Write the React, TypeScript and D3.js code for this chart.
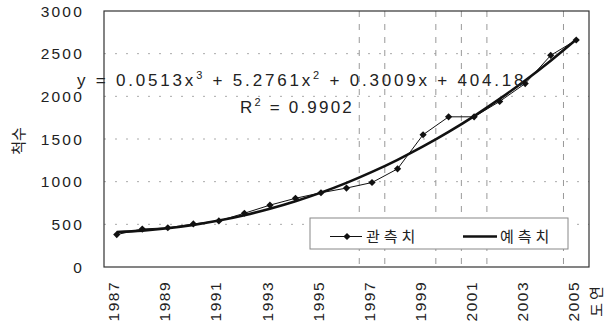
import React from "react";
import * as d3 from "d3";

const years = ["1987","1988","1989","1990","1991","1992","1993","1994","1995","1996","1997","1998","1999","2000","2001","2002","2003","2004","2005"];
const observed = [380, 445, 460, 505, 540, 630, 725, 805, 870, 925, 990, 1150, 1550, 1760, 1760, 1940, 2150, 2480, 2660];
const predicted = [409.8, 426.3, 454.0, 493.1, 544.0, 607.0, 682.4, 770.5, 871.7, 986.1, 1114.2, 1256.2, 1412.5, 1583.3, 1769.0, 1969.8, 2186.1, 2418.2, 2666.4];
const yTicks = [0, 500, 1000, 1500, 2000, 2500, 3000];
const xTickLabels = ["1987","1989","1991","1993","1995","1997","1999","2001","2003","2005"];
const vGridBoundaries = [9.5, 10.5, 12.5, 13.5, 14.5, 17.5];
const legendLabels = ["관측치", "예측치"];
const yTitle = "척수";
const xTitle = "도연";

const W = 611, H = 327;
const left = 104, right = 589, top = 11, bottom = 267;
const font = "'Liberation Sans', Arial, sans-serif";

export default function App() {
  const x = d3.scalePoint<string>().domain(years).range([left, right]).padding(0.5);
  const step = x.step();
  const xi = (i: number) => left + step * 0.5 + i * step;
  const y = d3.scaleLinear().domain([0, 3000]).range([bottom, top]);

  const obsLine = d3.line<number>().x((_, i) => x(years[i])!).y(d => y(d));
  const predLine = d3.line<number>().x((_, i) => x(years[i])!).y(d => y(d)).curve(d3.curveCatmullRom.alpha(0.5));

  const diamond = (cx: number, cy: number, r = 3.6) =>
    `M${cx},${cy - r}L${cx + r},${cy}L${cx},${cy + r}L${cx - r},${cy}Z`;

  const legX = 310, legY = 218, legW = 258, legH = 31;
  const legCy = legY + legH / 2 + 3;

  return (
    <svg width={W} height={H} style={{ position: "absolute", left: 0, top: 0, background: "#fff" }}>
      {yTicks.filter(t => t > 0 && t < 3000).map(t => (
        <line key={t} x1={left} x2={right} y1={y(t)} y2={y(t)} stroke="#aaa" strokeWidth={1} strokeDasharray="2,9" />
      ))}
      {vGridBoundaries.map(b => (
        <line key={b} x1={xi(b)} x2={xi(b)} y1={top} y2={bottom} stroke="#999" strokeWidth={1} strokeDasharray="6,7" />
      ))}
      <rect x={left} y={top} width={right - left} height={bottom - top} fill="none" stroke="#333" strokeWidth={1.2} />
      {yTicks.map(t => (
        <text key={t} x={84} y={y(t)} dy="0.36em" textAnchor="end" fontFamily={font} fontSize={15.5} letterSpacing={2.2} fill="#222">{t}</text>
      ))}
      {xTickLabels.map(l => {
        const cx = x(l)! - 3;
        return (
          <text key={l} transform={`translate(${cx},${281}) rotate(-90)`} dy="0.36em" textAnchor="end" fontFamily={font} fontSize={15.5} letterSpacing={1.5} fill="#222">{l}</text>
        );
      })}
      <text transform={`translate(${19},${141}) rotate(-90)`} dy="0.36em" textAnchor="middle" fontFamily="'Noto Sans CJK KR', sans-serif" fontSize={15} fill="#222">{yTitle}</text>
      <text transform={`translate(${597},${300}) rotate(-90)`} dy="0.36em" textAnchor="middle" fontFamily="'Noto Sans CJK KR', sans-serif" fontSize={15} letterSpacing={3} fill="#222">{xTitle}</text>

      <path d={predLine(predicted)!} fill="none" stroke="#111" strokeWidth={2.6} />
      <path d={obsLine(observed)!} fill="none" stroke="#111" strokeWidth={1} />
      {observed.map((v, i) => (
        <path key={i} d={diamond(x(years[i])!, y(v))} fill="#111" />
      ))}

      <text x={77} y={86} fontFamily={font} fontSize={17} letterSpacing={2.8} fill="#222">
        y = 0.0513x<tspan dy={-7} fontSize={11}>3</tspan><tspan dy={7}> + 5.2761x</tspan><tspan dy={-7} fontSize={11}>2</tspan><tspan dy={7}> + 0.3009x + 404.18</tspan>
      </text>
      <text x={240} y={113} fontFamily={font} fontSize={17} letterSpacing={2.2} fill="#222">
        R<tspan dy={-7} fontSize={11}>2</tspan><tspan dy={7}> = 0.9902</tspan>
      </text>

      <rect x={legX} y={legY} width={legW} height={legH} fill="#fff" stroke="#888" strokeWidth={1} />
      <line x1={330} x2={362} y1={legCy} y2={legCy} stroke="#111" strokeWidth={1} />
      <path d={diamond(347, legCy)} fill="#111" />
      <text x={366} y={legCy} dy="0.36em" fontFamily="'Noto Sans CJK KR', sans-serif" fontSize={15} letterSpacing={4} fill="#222">{legendLabels[0]}</text>
      <line x1={463} x2={497} y1={legCy} y2={legCy} stroke="#111" strokeWidth={2.6} />
      <text x={500} y={legCy} dy="0.36em" fontFamily="'Noto Sans CJK KR', sans-serif" fontSize={15} letterSpacing={4} fill="#222">{legendLabels[1]}</text>
    </svg>
  );
}
